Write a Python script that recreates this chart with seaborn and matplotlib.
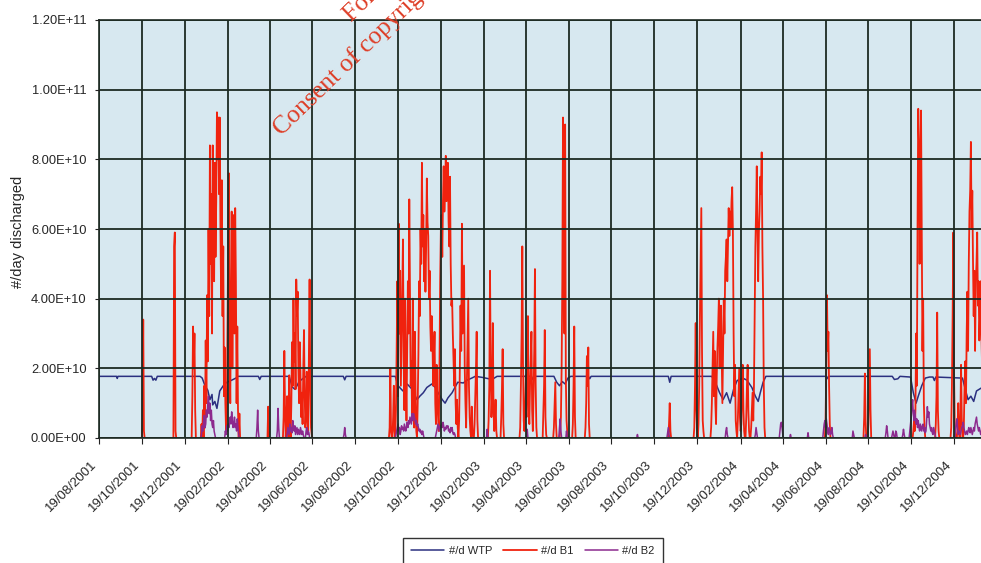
import numpy as np
import pandas as pd
import matplotlib
matplotlib.use("Agg")
import matplotlib.pyplot as plt
from matplotlib.ticker import FuncFormatter
import seaborn as sns

# daily series start date; x values below are days since this date
start = pd.Timestamp("2001-08-19")
n_days = 1263

tick_labels = ["19/08/2001", "19/10/2001", "19/12/2001", "19/02/2002", "19/04/2002",
               "19/06/2002", "19/08/2002", "19/10/2002", "19/12/2002", "19/02/2003",
               "19/04/2003", "19/06/2003", "19/08/2003", "19/10/2003", "19/12/2003",
               "19/02/2004", "19/04/2004", "19/06/2004", "19/08/2004", "19/10/2004",
               "19/12/2004"]

# WTP discharge, (day, value in 1e10 per day) read at the turning points
wtp_points = [(0, 1.77), (25, 1.77), (26, 1.71), (27, 1.77), (75, 1.77), (77, 1.66),
              (79, 1.71), (81, 1.66), (83, 1.77), (144, 1.77), (147, 1.72), (151, 1.5),
              (155, 1.37), (158, 1.1), (161, 1.25), (162, 0.95), (165, 1.05), (168, 0.85),
              (172, 1.35), (177, 1.5), (182, 1.6), (189, 1.66), (195, 1.72), (198, 1.77),
              (227, 1.77), (229, 1.68), (231, 1.77), (271, 1.77), (274, 1.55), (276, 1.45),
              (279, 1.4), (282, 1.5), (285, 1.62), (290, 1.7), (295, 1.77), (348, 1.77),
              (350, 1.67), (352, 1.77), (422, 1.77), (426, 1.5), (433, 1.35), (439, 1.55),
              (446, 1.4), (453, 1.1), (457, 1.2), (462, 1.3), (467, 1.45), (474, 1.55),
              (479, 1.45), (483, 1.3), (489, 1.1), (493, 1.0), (497, 1.15), (503, 1.3),
              (507, 1.45), (511, 1.6), (519, 1.58), (524, 1.66), (531, 1.72), (536, 1.77),
              (546, 1.74), (560, 1.68), (567, 1.77), (616, 1.77), (618, 1.68), (620, 1.77),
              (648, 1.77), (652, 1.6), (656, 1.5), (660, 1.62), (664, 1.55), (668, 1.72),
              (672, 1.77), (697, 1.77), (699, 1.7), (701, 1.77), (811, 1.77), (813, 1.6),
              (815, 1.77), (873, 1.77), (879, 1.55), (884, 1.3), (889, 1.1), (894, 1.3),
              (899, 1.0), (904, 1.4), (909, 1.65), (917, 1.72), (923, 1.66), (930, 1.45),
              (935, 1.2), (939, 1.05), (942, 1.3), (946, 1.6), (950, 1.77), (1035, 1.77),
              (1037, 1.7), (1039, 1.77), (1130, 1.77), (1133, 1.68), (1138, 1.7), (1141, 1.77),
              (1156, 1.75), (1160, 1.3), (1164, 1.0), (1167, 1.2), (1172, 1.5), (1177, 1.72),
              (1183, 1.75), (1188, 1.75), (1190, 1.65), (1192, 1.75), (1230, 1.72),
              (1234, 1.4), (1238, 1.1), (1242, 1.2), (1246, 1.05), (1250, 1.35), (1254, 1.4),
              (1262, 1.5)]

# B1 overflow: (first day, daily values in 1e10), zero on all other days
b1_bursts = [
    (62, [0.5, 3.4, 0.2]),
    (107, [5.5, 5.9, 0.2]),
    (133, [1.2, 3.2, 2.0, 3.0, 0.8]),
    (145, [0, 0.4, 0, 0.8, 0, 1.5, 0.3, 2.8, 1.0, 4.1, 2.2, 6.0, 3.5, 8.4, 5.0, 7.0, 3.0,
           8.4, 6.2, 4.5, 7.9, 5.2, 6.8, 9.35, 8.0, 9.2, 7.0, 9.2, 6.0, 4.0, 7.4, 3.5, 5.5,
           1.2, 2.6, 1.0, 0.2, 0.5, 3.0, 5.5, 7.6, 2.5, 1.0, 4.0, 6.5, 2.0, 5.0, 6.4, 3.0,
           6.6, 4.5, 1.0, 3.2, 0.8, 0, 0.7]),
    (241, [0.9]),
    (262, [0, 0.6, 2.5, 0.8, 0, 0.5, 1.2, 0.3, 0, 1.8, 0.5, 0, 1.0, 2.75, 1.5, 4.0, 2.2,
           3.0, 1.4, 4.55, 3.5, 4.2, 2.0, 1.0, 2.75, 1.8, 0.6, 1.3, 0.4, 2.0, 3.1, 1.2, 0.3,
           0.8, 1.9, 0.5, 0.2, 2.5, 4.55, 1.5, 0.3, 0.1]),
    (413, [0, 0.3, 2.0, 0.2, 0, 0, 0.6, 1.5, 0.2, 0, 0.8, 2.5, 4.5, 1.2, 6.15, 3.0, 4.8,
           1.5, 2.8, 4.2, 5.7, 2.2, 0.8, 4.0, 1.8, 0.5, 2.5, 4.5, 3.0, 6.85, 4.0, 1.5, 2.2,
           0.6, 4.0, 1.0, 0.3, 3.05, 1.2, 0.2, 0, 1.0, 2.4, 4.5, 3.5, 6.0, 5.0, 7.9, 5.5,
           6.4, 4.5, 6.0, 4.2, 5.5, 7.45, 6.2, 5.8, 4.0, 4.8, 3.2, 2.5, 3.5, 2.8, 1.5, 2.2,
           3.05, 1.0, 0.4, 2.1, 1.0, 0.6, 0.2, 2.0, 4.5, 6.0, 6.4, 5.2, 6.8, 7.8, 6.5, 7.2,
           8.1, 6.8, 7.0, 7.9, 6.2, 5.5, 7.5, 5.0, 3.8, 4.0, 3.0, 2.2, 1.5, 2.55, 1.0, 0.4,
           1.1, 0.3, 0, 0.5, 2.0, 3.8, 2.5, 6.15, 3.0, 4.0, 4.95, 2.0, 1.0, 0.3, 1.5, 2.8,
           4.0, 1.5, 0.6, 0.2, 0, 0.9, 0.2, 0, 0, 0.4, 1.2, 2.0, 3.05, 0.5]),
    (555, [0.5, 1.5, 4.8, 2.0, 0.6, 1.2, 3.3, 0.8, 0.2, 0.5, 1.1, 0.2]),
    (573, [0.6, 1.4, 2.55, 0.4]),
    (600, [0.3, 1.5, 3.0, 5.5, 2.2, 0.5, 0.2, 0.8, 1.8, 0.6, 2.5, 3.5, 1.0, 0.4, 1.5, 2.2,
           3.05, 0.8, 0.2, 1.2, 2.5, 4.85, 1.6, 0.3]),
    (633, [0.8, 1.5, 3.1, 0.6, 0.1]),
    (648, [0.3, 1.0, 1.6, 0.4]),
    (657, [0.2, 0.6, 2.0, 4.5, 9.2, 6.5, 3.0, 9.0, 1.7, 0.5, 0.2]),
    (675, [0.4, 1.5, 3.2, 0.6]),
    (693, [0.3, 1.0, 2.35, 1.5, 2.6, 0.4]),
    (812, [0.4, 1.0, 0.2]),
    (848, [0.3, 1.5, 3.3, 0.8, 0.2, 0, 0.4, 1.5, 3.5, 5.0, 6.6, 2.5, 0.5, 0.2]),
    (872, [0.3, 1.0, 2.0, 3.05, 1.2, 2.5, 1.0, 0.4, 1.8, 2.6, 3.2, 4.0, 2.0, 3.0, 3.8, 2.3,
           1.0, 2.5, 4.0, 3.0, 4.8, 5.2, 5.7, 4.5, 5.5, 6.6, 5.8, 6.5, 6.0, 6.8, 7.2, 5.9,
           3.0, 1.2, 2.1, 0.5, 0.2, 0, 0.5, 1.2, 2.0, 0.6, 0.2, 0.4, 1.5, 2.1, 0.8, 0.2, 0,
           0, 0.6, 1.5, 2.1, 0.8, 0.2, 0, 0, 0.3, 0.8, 1.3, 0.5, 1.5, 3.5, 5.5, 6.5, 7.8,
           6.0, 4.5, 5.9, 6.5, 7.5, 7.0, 8.2, 5.5, 4.0, 1.5, 0.3]),
    (1035, [0.5, 2.0, 4.1, 2.5, 3.05, 1.5, 0.4]),
    (1090, [0.6, 1.85, 0.5]),
    (1096, [0.4, 1.5, 2.55, 0.8]),
    (1160, [0.2, 0.5, 0.2, 0.8, 3.0, 1.5, 6.0, 9.45, 8.5, 5.0, 7.5, 9.4, 6.0, 2.5, 4.0, 1.0,
            0.3]),
    (1192, [0.4, 1.2, 3.6, 0.8, 0.2]),
    (1214, [0.3, 1.5, 3.5, 5.9, 1.8, 0.4]),
    (1223, [0.3, 1.0, 0.2]),
    (1227, [0.5, 2.1, 0.6]),
    (1232, [0.4, 1.5, 2.2, 1.0, 3.0, 4.2, 2.5, 5.0, 6.5, 7.1, 8.5, 6.0, 7.1, 5.1, 3.5, 4.8,
            2.5, 4.5, 5.0, 5.9, 3.8, 4.5, 2.8, 3.5, 4.5, 3.0, 2.0, 1.5, 0.8]),
]

# B2 overflow: (first day, daily values in 1e10)
b2_bursts = [
    (146, [0.1, 0.35, 0.2, 0.5, 0.65, 0.3, 0.4, 0.8, 0.6, 1.0, 1.2, 0.7, 1.0, 0.5, 0.8, 0.4,
           0.3, 0.5, 0.2, 0.1]),
    (180, [0.2, 0.1, 0.35, 0.2, 0.4, 0.3, 0.5, 0.6, 0.4, 0.75, 0.5, 0.3, 0.4, 0.6, 0.3, 0.4,
           0.2, 0.55, 0.3, 0.1]),
    (225, [0.3, 0.8, 0.2]),
    (254, [0.2, 0.85, 0.3]),
    (268, [0.1, 0.3, 0.2, 0.1, 0.4, 0.2, 0.3, 0.15, 0.5, 0.3, 0.2, 0.35, 0.1, 0.2, 0.3, 0.1,
           0.25, 0.15, 0.1, 0.3, 0.2, 0.1, 0.2, 0.1]),
    (295, [0.2, 0.3, 0.1, 0.2, 0.15]),
    (349, [0.1, 0.3, 0.1]),
    (423, [0.1, 0.2, 0.3, 0.4, 0.2, 0.3, 0.1, 0.2, 0.35, 0.25, 0.3, 0.2, 0.4, 0.3, 0.2, 0.3,
           0.45, 0.3, 0.5, 0.4, 0.6, 0.5, 0.4, 0.7, 0.5, 0.7, 0.6, 0.55, 0.4, 0.5, 0.35, 0.4,
           0.3, 0.2, 0.25, 0.15, 0.2, 0.1, 0.2, 0.1]),
    (480, [0.1, 0.2, 0.3, 0.4, 0.3, 0.2, 0.35, 0.3, 0.4, 0.3, 0.45, 0.35, 0.2, 0.3, 0.25,
           0.35, 0.3, 0.35, 0.2, 0.25, 0.15, 0.3, 0.2, 0.3, 0.15, 0.1, 0.15, 0.1]),
    (553, [0.25]),
    (610, [0.25]),
    (656, [0.3, 0.55, 0.2]),
    (666, [0.2]),
    (767, [0.1]),
    (810, [0.15, 0.3, 0.1]),
    (893, [0.2, 0.3, 0.1]),
    (935, [0.1, 0.3, 0.15]),
    (970, [0.2, 0.4, 0.45, 0.3, 0.1]),
    (985, [0.1]),
    (1010, [0.15]),
    (1032, [0.2, 0.4, 0.5, 0.3, 0.55, 0.4, 0.2, 0.1, 0.3, 0.2, 0.1, 0.15, 0.3, 0.1]),
    (1074, [0.2, 0.1]),
    (1092, [0.1]),
    (1121, [0.15, 0.35, 0.2]),
    (1130, [0.1, 0.2, 0.1]),
    (1135, [0.2, 0.15]),
    (1145, [0.1, 0.25, 0.1]),
    (1155, [0.2, 0.4, 0.6, 0.9, 1.1, 0.7, 0.5, 0.8, 0.6, 0.4, 0.55, 0.3, 0.5, 0.3, 0.2, 0.4,
            0.3, 0.2, 0.35, 0.4, 0.2, 0.3, 0.15, 0.2, 0.5, 0.9, 0.6, 0.75, 0.4, 0.3, 0.2, 0.3,
            0.15, 0.1, 0.3, 0.2, 0.1]),
    (1220, [0.2, 0.4, 0.55, 0.3, 0.1, 0.2, 0.15, 0.1, 0.2, 0.3, 0.35, 0.45, 0.3, 0.2, 0.1,
            0.15, 0.2, 0.1, 0.2, 0.3, 0.2, 0.15, 0.3, 0.2, 0.1, 0.2, 0.3, 0.2, 0.4, 0.5, 0.6,
            0.4, 0.3, 0.2, 0.3, 0.2, 0.1, 0.2, 0.1, 0.1]),
]


def daily_series(bursts):
    vals = np.zeros(n_days)
    for d0, v in bursts:
        vals[d0:d0 + len(v)] = v
    dates = start + pd.to_timedelta(np.arange(n_days), unit="D")
    return pd.DataFrame({"date": dates, "value": vals * 1e10})


wtp = pd.DataFrame({
    "date": start + pd.to_timedelta([p[0] for p in wtp_points], unit="D"),
    "value": np.array([p[1] for p in wtp_points]) * 1e10,
})
b1 = daily_series(b1_bursts)
b2 = daily_series(b2_bursts)

sns.set_style("white")
plt.rcParams["font.family"] = ["Liberation Sans", "DejaVu Sans"]

W, H = 981, 563
fig = plt.figure(figsize=(W / 100, H / 100), dpi=100)
# plot area runs off the right edge of the picture, as in the scan
left_px, right_px, top_px, bottom_px = 99, 1000, 20, 438
ax = fig.add_axes([left_px / W, 1 - bottom_px / H, (right_px - left_px) / W,
                   (bottom_px - top_px) / H])
ax.set_facecolor("#d7e8f0")

sns.lineplot(data=wtp, x="date", y="value", ax=ax, color="#2b3080", lw=1.1,
             label="#/d WTP", estimator=None)
sns.lineplot(data=b1, x="date", y="value", ax=ax, color="#f0220e", lw=1.3,
             label="#/d B1", estimator=None)
sns.lineplot(data=b2, x="date", y="value", ax=ax, color="#8c2a8e", lw=1.1,
             label="#/d B2", estimator=None)

px_per_day = 0.702
ax.set_xlim(start, start + pd.Timedelta(days=(right_px - left_px) / px_per_day))
ax.set_ylim(0, 1.2e11)

tick_dates = pd.to_datetime(tick_labels, format="%d/%m/%Y")
ax.set_xticks(tick_dates)
# bottom-anchored labels sit a little up and left of the tick, like the original
ax.set_xticklabels(tick_labels, rotation=45, ha="right", va="bottom",
                   rotation_mode="anchor", fontsize=9.5)
ax.set_yticks(np.arange(0, 1.21e11, 2e10))
ax.yaxis.set_major_formatter(FuncFormatter(lambda v, p: f"{v:.2E}"))
ax.tick_params(axis="y", labelsize=9.3, left=True, length=3, pad=6, color="#222222")
ax.tick_params(axis="x", bottom=True, length=4, pad=17, color="#222222")

ax.grid(True, color="#1c2a22", lw=1.3)
ax.set_axisbelow(False)
for side in ["left", "top", "bottom"]:
    ax.spines[side].set_color("#1c2a22")
    ax.spines[side].set_linewidth(1.2)
ax.spines["right"].set_visible(False)

ax.set_xlabel("")
ax.set_ylabel("#/day discharged", fontsize=10.5)
ax.yaxis.set_label_coords((25 - left_px) / (right_px - left_px),
                          (bottom_px - 232) / (bottom_px - top_px))

handles, labels = ax.get_legend_handles_labels()
ax.get_legend().remove()
fig.legend(handles, labels, loc="upper center", bbox_to_anchor=(533 / W, 1 - 538 / H),
           borderaxespad=0, ncol=3, frameon=True, fancybox=False, edgecolor="black",
           fontsize=8, handlelength=3.0, handletextpad=0.4, columnspacing=1.0,
           borderpad=0.7)

# red watermark stamped on the scanned page
wm = dict(rotation=44, rotation_mode="anchor", ha="left", va="baseline",
          color="#de3f28", fontsize=18.5, family="Liberation Serif")
fig.text(282 / W, 1 - 136 / H, "Consent of copyright owner required for any other use.", **wm)
fig.text(352 / W, 1 - 22 / H, "For inspection purposes only.", **wm)

fig.savefig("out.png", dpi=100)
